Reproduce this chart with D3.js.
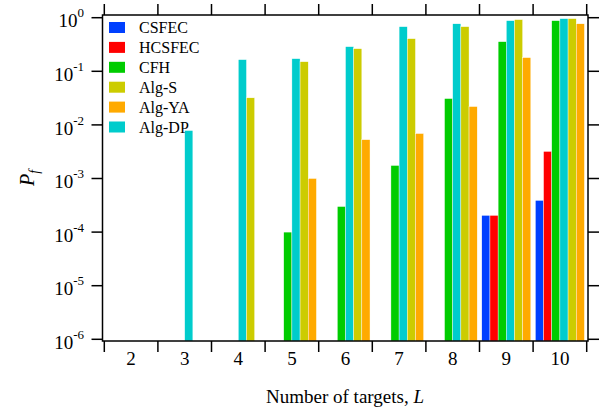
<!DOCTYPE html>
<html>
<head>
<meta charset="utf-8">
<script src="https://cdn.jsdelivr.net/npm/d3@7"></script>
<style>
  body { margin: 0; background: #fff; }
  svg { display: block; font-family: "Liberation Serif", "Times New Roman", serif; }
</style>
</head>
<body>
<div></div>
<script>
const categories = [2, 3, 4, 5, 6, 7, 8, 9, 10];
const legendNames = ["CSFEC", "HCSFEC", "CFH", "Alg-S", "Alg-YA", "Alg-DP"];
const barOrder = ["CSFEC", "HCSFEC", "CFH", "Alg-DP", "Alg-S", "Alg-YA"];
const colors = ["#0040ff", "#ff0000", "#00cc00", "#cccc00", "#ffaa00", "#00cccc"];

// null = nothing drawn (zero probability)
const csfec = [null, null, null, null, null, null, null, 2.05e-4, 3.9e-4];
const hcsfec = [null, null, null, null, null, null, null, 2.05e-4, 3.2e-3];
const cfh = [null, null, null, 1.0e-4, 3.0e-4, 1.75e-3, 0.031, 0.357, 0.88];
const algS = [null, null, 0.032, 0.151, 0.264, 0.406, 0.68, 0.92, 0.96];
const algYA = [null, null, null, 1.0e-3, 5.3e-3, 6.9e-3, 0.022, 0.18, 0.77];
const algDP = [null, 7.85e-3, 0.165, 0.172, 0.288, 0.68, 0.77, 0.88, 0.96];
const yTicks = [1e-6, 1e-5, 1e-4, 1e-3, 1e-2, 1e-1, 1];

const w = 605;
const h = 413;
const frame = { left: 102.5, right: 588, top: 15, bottom: 341 };

const values = {
  CSFEC: csfec,
  HCSFEC: hcsfec,
  CFH: cfh,
  "Alg-S": algS,
  "Alg-YA": algYA,
  "Alg-DP": algDP,
};
const color = d3.scaleOrdinal().domain(legendNames).range(colors);

const svg = d3.select("div").append("svg").attr("width", w).attr("height", h);

const xScale = d3
  .scaleBand()
  .domain(categories)
  .range([104.3, 586.7])
  .padding(0);
const inner = d3
  .scaleBand()
  .domain(barOrder)
  .range([0, xScale.bandwidth()])
  .paddingInner(0)
  .paddingOuter(0.28);
const yScale = d3.scaleLog().domain([1e-6, 1]).range([339.3, 17.7]);

// bars
const bars = [];
barOrder.forEach((name) => {
  values[name].forEach((v, i) => {
    if (v != null) bars.push({ name: name, cat: categories[i], v: v });
  });
});
svg
  .append("g")
  .selectAll("rect")
  .data(bars)
  .enter()
  .append("rect")
  .attr("x", (d) => xScale(d.cat) + inner(d.name))
  .attr("width", inner.bandwidth())
  .attr("y", (d) => yScale(d.v))
  .attr("height", (d) => frame.bottom - yScale(d.v))
  .attr("fill", (d) => color(d.name))
  .attr("stroke", "#fff")
  .attr("stroke-width", 0.4);

// frame
svg
  .append("rect")
  .attr("x", frame.left)
  .attr("y", frame.top)
  .attr("width", frame.right - frame.left)
  .attr("height", frame.bottom - frame.top)
  .attr("fill", "none")
  .attr("stroke", "#000")
  .attr("stroke-width", 1.5);

// ticks
const bounds = categories.map((c) => xScale(c)).concat([xScale.range()[1]]);
const tickG = svg.append("g").attr("stroke", "#000").attr("stroke-width", 1.5);
bounds.forEach((x) => {
  tickG.append("line").attr("x1", x).attr("x2", x).attr("y1", frame.bottom).attr("y2", frame.bottom + 11);
  tickG.append("line").attr("x1", x).attr("x2", x).attr("y1", frame.top).attr("y2", frame.top - 11);
});
yTicks.forEach((t) => {
  const y = yScale(t);
  tickG.append("line").attr("x1", frame.left).attr("x2", frame.left - 11).attr("y1", y).attr("y2", y);
  tickG.append("line").attr("x1", frame.right).attr("x2", frame.right + 11).attr("y1", y).attr("y2", y);
});

// x tick labels
svg
  .append("g")
  .selectAll("text")
  .data(categories)
  .enter()
  .append("text")
  .attr("x", (d) => xScale(d) + xScale.bandwidth() / 2)
  .attr("y", 365)
  .attr("text-anchor", "middle")
  .attr("font-size", 19)
  .text((d) => d);

// y tick labels 10^n
const yl = svg
  .append("g")
  .selectAll("text")
  .data(yTicks)
  .enter()
  .append("text")
  .attr("x", 84)
  .attr("y", (d) => yScale(d) + 9.7)
  .attr("text-anchor", "end")
  .attr("font-size", 19);
yl.append("tspan").text("10");
yl.append("tspan")
  .attr("dy", -10)
  .attr("font-size", 13)
  .text((d) => {
    const e = Math.round(Math.log10(d));
    return e < 0 ? "-" + -e : "" + e;
  });

// axis titles
svg
  .append("text")
  .attr("x", 345)
  .attr("y", 402.5)
  .attr("text-anchor", "middle")
  .attr("font-size", 19)
  .html('Number of targets, <tspan font-style="italic">L</tspan>');

const yt = svg
  .append("text")
  .attr("transform", "translate(34,178) rotate(-90)")
  .attr("text-anchor", "middle")
  .attr("font-size", 20)
  .attr("font-style", "italic");
yt.append("tspan").text("P");
yt.append("tspan").attr("dy", 5).attr("font-size", 14).text("f");

// legend
const lg = svg
  .append("g")
  .selectAll("g")
  .data(legendNames)
  .enter()
  .append("g")
  .attr("transform", (d, i) => "translate(109," + (22 + i * 19.9) + ")");
lg.append("rect").attr("width", 16).attr("height", 11).attr("fill", (d) => color(d));
lg.append("text")
  .attr("x", 30)
  .attr("y", 11)
  .attr("font-size", 16)
  .text((d) => d);
</script>
</body>
</html>
